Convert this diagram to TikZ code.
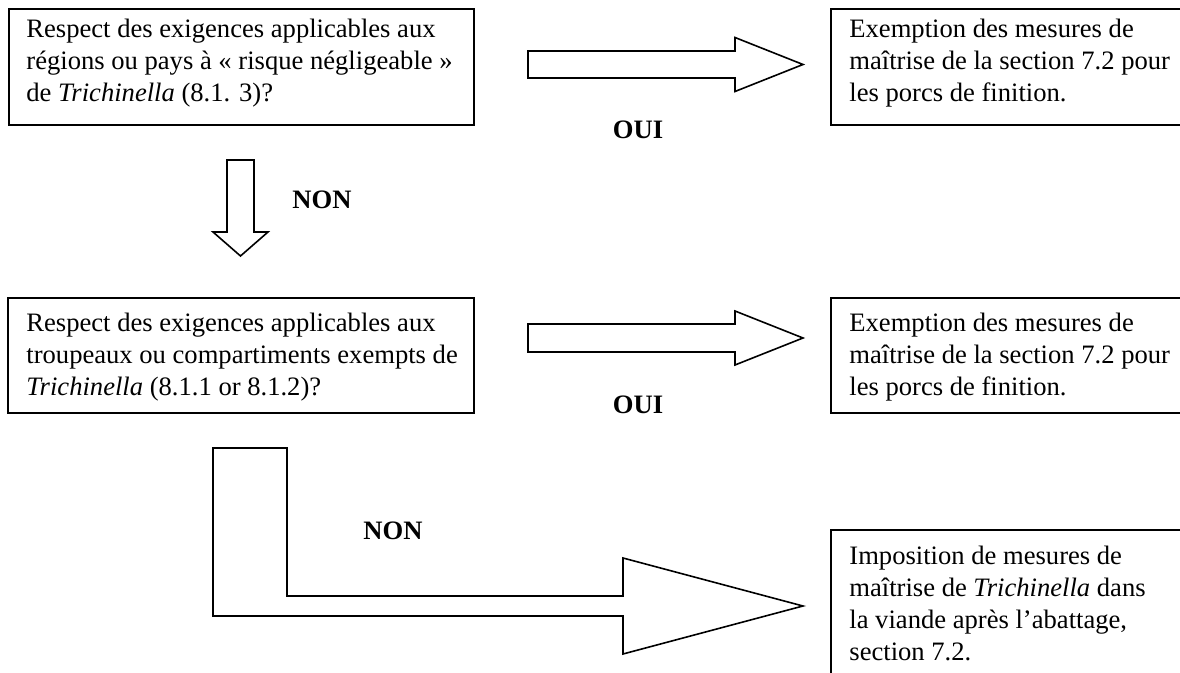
\documentclass[tikz,border=0pt]{standalone}
\usepackage{fontspec}
\setmainfont{Liberation Serif}
\begin{document}
\begin{tikzpicture}[x=0.5pt,y=-0.5pt,
  box/.style={draw=black, line width=0.8pt, inner sep=0pt},
  txt/.style={anchor=north west, inner sep=0pt, align=left, font=\fontsize{13.3pt}{16pt}\selectfont},
  lbl/.style={inner sep=0pt, font=\fontsize{13.3pt}{16pt}\selectfont\bfseries},
  blockarrow/.style={draw=black, line width=0.8pt, fill=white, line join=miter}]
\useasboundingbox (0,0) rectangle (1180,673);
\clip (0,0) rectangle (1180,673);
% boxes
\draw[box] (9,9) rectangle (474,125);
\draw[box] (8,298) rectangle (474,413);
\draw[box] (831,9) rectangle (1240,125);
\draw[box] (831,298) rectangle (1240,413);
\draw[box] (831,530) rectangle (1240,720);
% texts
\node[txt] (q1) at (26,19) {Respect des exigences applicables aux\\régions ou pays à « risque négligeable »\\de \textit{Trichinella} (8.1. 3)?};
\node[txt] (q2) at (26,313) {Respect des exigences applicables aux\\troupeaux ou compartiments exempts de\\\textit{Trichinella} (8.1.1 or 8.1.2)?};
\node[txt] (r1) at (849,19) {Exemption des mesures de\\maîtrise de la section 7.2 pour\\les porcs de finition.};
\node[txt] (r2) at (849,313) {Exemption des mesures de\\maîtrise de la section 7.2 pour\\les porcs de finition.};
\node[txt] (r3) at (849,546) {Imposition de mesures de\\maîtrise de \textit{Trichinella} dans\\la viande après l’abattage,\\section 7.2.};
% block arrows
\draw[blockarrow] (528,51) -- (735,51) -- (735,37.5) -- (803,64.5) -- (735,91.5) -- (735,78) -- (528,78) -- cycle;
\draw[blockarrow] (528,324) -- (735,324) -- (735,311) -- (803,338) -- (735,365) -- (735,352) -- (528,352) -- cycle;
\draw[blockarrow] (227,160) -- (254,160) -- (254,232) -- (268,232) -- (240.5,256) -- (213,232) -- (227,232) -- cycle;
\draw[blockarrow] (213,448) -- (287,448) -- (287,596) -- (623,596) -- (623,558) -- (803,606) -- (623,654) -- (623,616) -- (213,616) -- cycle;
% labels
\node[lbl] (oui1) at (638,130) {OUI};
\node[lbl] (oui2) at (638,405) {OUI};
\node[lbl] (non1) at (322,200) {NON};
\node[lbl] (non2) at (393,531) {NON};
\end{tikzpicture}
\end{document}
